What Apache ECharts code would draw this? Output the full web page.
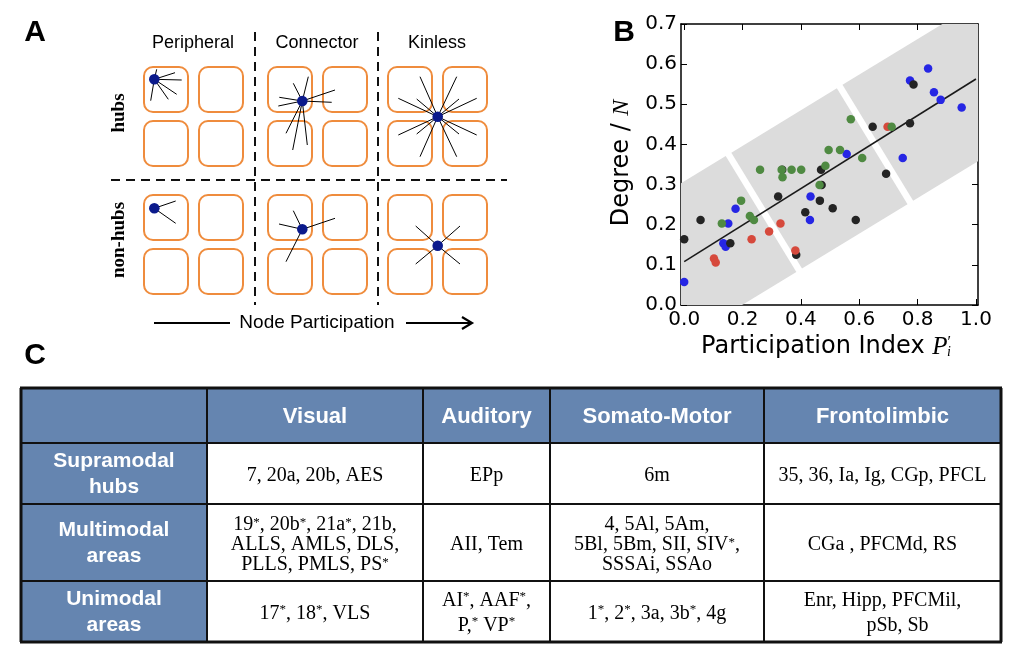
<!DOCTYPE html>
<html><head><meta charset="utf-8">
<script src="https://cdn.jsdelivr.net/npm/echarts@6/dist/echarts.min.js"></script>
<style>html,body{margin:0;padding:0;background:#fff}#c{width:1023px;height:662px}</style>
</head><body><div id="c"></div>
<script>
// ================= DATA =================
// Panel B: scatter of Degree/N vs participation index, by system
const blackPts = [[0.0,0.164],[0.056,0.212],[0.158,0.154],[0.322,0.270],[0.336,0.337],[0.384,0.125],[0.415,0.231],[0.465,0.260],[0.469,0.337],[0.471,0.299],[0.509,0.241],[0.588,0.212],[0.646,0.444],[0.692,0.327],[0.774,0.453],[0.786,0.549]];
const redPts = [[0.102,0.116],[0.108,0.106],[0.231,0.164],[0.291,0.183],[0.330,0.203],[0.381,0.136],[0.697,0.444]];
const greenPts = [[0.129,0.203],[0.195,0.260],[0.225,0.222],[0.239,0.212],[0.260,0.337],[0.334,0.337],[0.337,0.318],[0.368,0.337],[0.401,0.337],[0.464,0.299],[0.484,0.347],[0.495,0.386],[0.534,0.386],[0.571,0.463],[0.610,0.366],[0.711,0.444]];
const bluePts = [[0.0,0.057],[0.134,0.154],[0.142,0.145],[0.151,0.203],[0.176,0.240],[0.433,0.270],[0.431,0.212],[0.557,0.376],[0.749,0.366],[0.774,0.559],[0.836,0.589],[0.856,0.530],[0.879,0.511],[0.951,0.492]];
const fitLine = [[0.0,0.108],[1.0,0.563]];
// shaded band around the trend: centre line intercept/slope and half height (data units), cut positions along x
const bandIntercept = 0.110;
const bandSlope = 0.443;
const bandHalf = 0.198;
const bandCuts = [-0.6, 0.273, 0.654, 1.6];
const xTickValues = [0.0, 0.2, 0.4, 0.6, 0.8, 1.0];
const yTickValues = [0.0, 0.1, 0.2, 0.3, 0.4, 0.5, 0.6, 0.7];

// Panel A labels
const roleColumns = ['Peripheral', 'Connector', 'Kinless'];
const roleRows = ['hubs', 'non-hubs'];
const axisArrowLabel = 'Node Participation';

// Panel C table
const tableColumns = ['Visual', 'Auditory', 'Somato-Motor', 'Frontolimbic'];
const tableRows = ['Supramodal\nhubs', 'Multimodal\nareas', 'Unimodal\nareas'];
const rowSupramodal = ['7, 20a, 20b, AES', 'EPp', '6m', '35, 36, Ia, Ig, CGp, PFCL'];
const rowMultimodal = ['19*, 20b*, 21a*, 21b,\nALLS, AMLS, DLS,\nPLLS, PMLS, PS*', 'AII, Tem', '4, 5Al, 5Am,\n5Bl, 5Bm, SII, SIV*,\nSSSAi, SSAo', 'CGa , PFCMd, RS'];
const rowUnimodal = ['17*, 18*, VLS', 'AI*, AAF*,\nP,* VP*', '1*, 2*, 3a, 3b*, 4g', 'Enr, Hipp, PFCMil,\n      pSb, Sb'];

// ================= LAYOUT =================
const SANS = 'Liberation Sans, Arial, sans-serif';
const SERIF = 'Liberation Serif, Times New Roman, serif';
const DJV = 'DejaVu Sans, sans-serif';
const ORANGE = '#ef8c3d';
const NAVY = '#0b1a8c';
const HEAD = '#6585b0';

const els = [];
// panel letters
els.push({type:'text', x:35, y:33, style:{text:'A', font:'bold 30px '+SANS, fill:'#000', align:'center', verticalAlign:'middle'}});
els.push({type:'text', x:624, y:33, style:{text:'B', font:'bold 30px '+SANS, fill:'#000', align:'center', verticalAlign:'middle'}});
els.push({type:'text', x:35, y:356, style:{text:'C', font:'bold 30px '+SANS, fill:'#000', align:'center', verticalAlign:'middle'}});

// ---- Panel A schematic ----
const colCentersA = [193, 317, 437];
roleColumns.forEach((t,i)=>els.push({type:'text', x:colCentersA[i], y:43, style:{text:t, font:'18px '+SANS, fill:'#000', align:'center', verticalAlign:'middle'}}));
const rowCentersA = [113, 240];
roleRows.forEach((t,i)=>els.push({type:'text', x:119, y:rowCentersA[i], rotation:Math.PI/2, style:{text:t, font:'bold 19px '+SERIF, fill:'#000', align:'center', verticalAlign:'middle'}}));
const grpX = [144, 268, 388], grpY = [67, 195];
grpX.forEach(gx=>grpY.forEach(gy=>{
  for (let a=0;a<2;a++) for (let b=0;b<2;b++)
    els.push({type:'rect', shape:{x:gx+a*55, y:gy+b*54, width:44, height:45, r:9}, style:{fill:'none', stroke:ORANGE, lineWidth:2}});
}));
const dash = {stroke:'#111', lineWidth:2, lineDash:[9,6]};
els.push({type:'line', shape:{x1:111,y1:180,x2:507,y2:180}, style:dash});
els.push({type:'line', shape:{x1:255,y1:32,x2:255,y2:305}, style:dash});
els.push({type:'line', shape:{x1:378,y1:32,x2:378,y2:305}, style:dash});
const nodes = [
  {c:[154.3,79.3], e:[[181.7,80],[175,72.7],[156.7,69.3],[176.7,94.3],[168.3,99.3],[150.7,100.7]]},
  {c:[302.3,101], e:[[308.3,76.7],[293.3,83.3],[335,90],[331.7,102.3],[279.3,97.3],[278.3,106],[286,133.3],[292.7,150],[307.3,145]]},
  {c:[437.7,116.7], e:[[420,76.7],[456.7,76.7],[398.3,98.3],[476.7,98.3],[398.3,135],[476.7,135],[420,156.7],[456.7,156.7],[416.7,99],[459,99],[416.7,134],[459,134]]},
  {c:[154.3,208.3], e:[[175.7,201],[175.7,223.3]]},
  {c:[302.3,229.3], e:[[293.3,210.7],[279,224],[335,218.3],[286,261.7]]},
  {c:[437.7,245.7], e:[[415.7,226],[460,226],[415.7,264],[460,264]]}
];
nodes.forEach(n=>{
  n.e.forEach(p=>els.push({type:'line', shape:{x1:n.c[0],y1:n.c[1],x2:p[0],y2:p[1]}, style:{stroke:'#000', lineWidth:1}}));
});
nodes.forEach(n=>els.push({type:'circle', shape:{cx:n.c[0], cy:n.c[1], r:5.3}, style:{fill:NAVY}}));
els.push({type:'text', x:317, y:323, style:{text:axisArrowLabel, font:'19px '+SANS, fill:'#000', align:'center', verticalAlign:'middle'}});
els.push({type:'line', shape:{x1:154,y1:323,x2:230,y2:323}, style:{stroke:'#000', lineWidth:2}});
els.push({type:'line', shape:{x1:406,y1:323,x2:471,y2:323}, style:{stroke:'#000', lineWidth:2}});
els.push({type:'polyline', shape:{points:[[462,317],[472,323],[462,329]]}, style:{stroke:'#000', lineWidth:2.2, fill:'none'}});

// ---- Panel B axis names ----
els.push({type:'text', x:622, y:163, rotation:Math.PI/2, style:{
  text:'{n|Degree / }{i|N}', align:'center', verticalAlign:'middle',
  rich:{n:{font:'24px '+DJV, fill:'#000'}, i:{font:'italic 24px '+SERIF, fill:'#000'}}}});
els.push({type:'text', x:826, y:347, style:{
  text:'{n|Participation Index }{i|P}{p|′}{s|i}', align:'center', verticalAlign:'middle',
  rich:{n:{font:'24px '+DJV, fill:'#000'}, i:{font:'italic 25px '+SERIF, fill:'#000'},
        p:{font:'16px '+SERIF, fill:'#000', verticalAlign:'top'}, s:{font:'italic 14px '+SERIF, fill:'#000', verticalAlign:'bottom', padding:[0,0,0,-4]}}}});

// ---- Panel C table ----
const colX = [21, 207, 423, 550, 764, 1001];
const rowY = [388, 443, 504, 581, 642];
els.push({type:'rect', shape:{x:colX[0], y:rowY[0], width:colX[5]-colX[0], height:rowY[4]-rowY[0]}, style:{fill:'#fff'}});
els.push({type:'rect', shape:{x:colX[0], y:rowY[0], width:colX[5]-colX[0], height:rowY[1]-rowY[0]}, style:{fill:HEAD}});
els.push({type:'rect', shape:{x:colX[0], y:rowY[1], width:colX[1]-colX[0], height:rowY[4]-rowY[1]}, style:{fill:HEAD}});
tableColumns.forEach((t,i)=>els.push({type:'text', x:(colX[i+1]+colX[i+2])/2, y:(rowY[0]+rowY[1])/2+1, style:{text:t, font:'bold 22px '+SANS, fill:'#fff', align:'center', verticalAlign:'middle'}}));
tableRows.forEach((t,r)=>els.push({type:'text', x:(colX[0]+colX[1])/2, y:(rowY[r+1]+rowY[r+2])/2+1, style:{text:t, font:'bold 21px '+SANS, fill:'#fff', align:'center', verticalAlign:'middle', lineHeight:26}}));
const bodyRows = [rowSupramodal, rowMultimodal, rowUnimodal];
const bodyLH = [22, 20, 25];
bodyRows.forEach((row,r)=>row.forEach((t,c)=>{
  const lh = bodyLH[r];
  els.push({type:'text', x:(colX[c+1]+colX[c+2])/2, y:(rowY[r+1]+rowY[r+2])/2+2, style:{
    text:t.replace(/\*/g,'{s|*}'), font:'20px '+SERIF, fill:'#000', align:'center', verticalAlign:'middle', lineHeight:lh,
    rich:{s:{font:'13px '+SERIF, fill:'#000', lineHeight:lh, verticalAlign:'top', padding:[2,0,0,0]}}}});
}));
rowY.forEach((y,i)=>els.push({type:'line', shape:{x1:colX[0]-1,y1:y,x2:colX[5]+1,y2:y}, style:{stroke:'#111', lineWidth:(i===0||i===4)?3:2}}));
colX.forEach((x,i)=>els.push({type:'line', shape:{x1:x,y1:rowY[0],x2:x,y2:rowY[4]}, style:{stroke:'#111', lineWidth:(i===0||i===5)?3:2}}));

// ================= CHART =================
function clipPoly(pts, x0, y0, x1, y1){
  const fs = [p=>p[0]-x0, p=>x1-p[0], p=>p[1]-y0, p=>y1-p[1]];
  let out = pts;
  for (const f of fs){
    const inp = out; out = [];
    for (let i=0;i<inp.length;i++){
      const a = inp[i], b = inp[(i+1)%inp.length];
      const fa = f(a), fb = f(b);
      if (fa>=0) out.push(a);
      if ((fa>=0)!==(fb>=0)){ const t = fa/(fa-fb); out.push([a[0]+(b[0]-a[0])*t, a[1]+(b[1]-a[1])*t]); }
    }
    if (!out.length) break;
  }
  return out;
}
const bandSegments = bandCuts.slice(0,-1).map((v,i)=>[v, bandCuts[i+1]]);
const bandCenter = v => bandIntercept + bandSlope*v;

const XMIN = -0.011, XMAX = 1.007;
const axisCommon = {
  axisLine:{show:true, onZero:false, lineStyle:{color:'#000', width:1.5}},
  splitLine:{show:false}
};
const option = {
  animation:false,
  backgroundColor:'#fff',
  grid:{left:681, top:24, width:297, height:281, containLabel:false},
  xAxis:[
    Object.assign({type:'value', position:'bottom', min:XMIN, max:XMAX,
      axisTick:{show:true, inside:true, length:6, customValues:xTickValues, lineStyle:{color:'#000', width:1}},
      axisLabel:{show:true, customValues:xTickValues, margin:5, formatter:v=>v.toFixed(1), fontFamily:DJV, fontSize:20, color:'#000'}}, axisCommon),
    Object.assign({type:'value', position:'top', min:XMIN, max:XMAX,
      axisTick:{show:true, inside:true, length:6, customValues:xTickValues, lineStyle:{color:'#000', width:1}},
      axisLabel:{show:false}}, axisCommon)
  ],
  yAxis:[
    Object.assign({type:'value', position:'left', min:0, max:0.7, interval:0.1,
      axisTick:{show:true, inside:true, length:6, customValues:yTickValues, lineStyle:{color:'#000', width:1}},
      axisLabel:{show:true, customValues:yTickValues, margin:4, formatter:v=>v.toFixed(1), fontFamily:DJV, fontSize:20, color:'#000'}}, axisCommon),
    Object.assign({type:'value', position:'right', min:0, max:0.7, interval:0.1,
      axisTick:{show:true, inside:true, length:6, customValues:yTickValues, lineStyle:{color:'#000', width:1}},
      axisLabel:{show:false}}, axisCommon)
  ],
  graphic:{elements:els},
  series:[
    {type:'custom', name:'band', z:1, silent:true, data:bandSegments, encode:{x:[0,1]},
      renderItem:function(params, api){
        const a = api.value(0), b = api.value(1);
        const P0 = api.coord([a, bandCenter(a)]), P1 = api.coord([b, bandCenter(b)]);
        const dx = P1[0]-P0[0], dy = P1[1]-P0[1], L = Math.hypot(dx,dy);
        const ux = dx/L, uy = dy/L, nx = -uy, ny = ux;
        const hv = api.size([0, bandHalf])[1];
        const hp = hv*Math.abs(ux);
        const g = 3.3;
        const pts = [
          [P0[0]+g*ux+nx*hp, P0[1]+g*uy+ny*hp],
          [P1[0]-g*ux+nx*hp, P1[1]-g*uy+ny*hp],
          [P1[0]-g*ux-nx*hp, P1[1]-g*uy-ny*hp],
          [P0[0]+g*ux-nx*hp, P0[1]+g*uy-ny*hp]];
        const cs = params.coordSys;
        const cp = clipPoly(pts, cs.x, cs.y, cs.x+cs.width, cs.y+cs.height);
        return {type:'polygon', shape:{points:cp}, style:{fill:'#dcdcdc'}};
      }},
    {type:'line', name:'fit', z:2, data:fitLine, showSymbol:false, symbol:'none', lineStyle:{color:'#1a1a1a', width:1.6}},
    {type:'scatter', name:'blue', z:3, data:bluePts, symbolSize:8.5, itemStyle:{color:'#2626e4', opacity:1}},
    {type:'scatter', name:'black', z:3, data:blackPts, symbolSize:8.5, itemStyle:{color:'#242424', opacity:1}},
    {type:'scatter', name:'red', z:3, data:redPts, symbolSize:8.5, itemStyle:{color:'#d6493c', opacity:1}},
    {type:'scatter', name:'green', z:3, data:greenPts, symbolSize:8.5, itemStyle:{color:'#4f8a42', opacity:1}}
  ]
};
const chart = echarts.init(document.getElementById('c'));
chart.setOption(option);
</script>
</body></html>
